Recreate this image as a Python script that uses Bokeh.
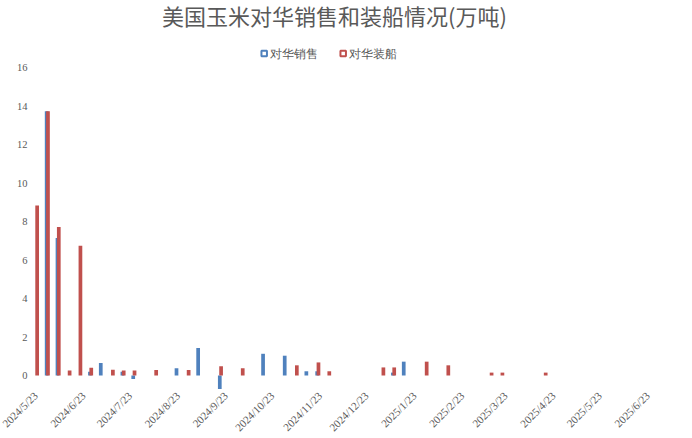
import math
import pandas as pd
from bokeh.plotting import figure
from bokeh.models import ColumnDataSource, Range1d, LabelSet, Label
from bokeh.transform import dodge
from bokeh.embed import file_html
from bokeh.resources import INLINE

# weekly data, week ending Thursday, starting 2024-05-23
weeks = pd.date_range("2024-05-23", periods=57, freq="7D").strftime("%Y-%m-%d").tolist()

sales = [0, 13.75, 7.15, 0, 0, 0.2, 0.65, 0, 0.2, -0.18,
         0, 0, 0, 0.38, 0, 1.43, 0, -0.7, 0, 0,
         0, 1.13, 0, 1.03, 0, 0.22, 0.22, 0, 0, 0,
         0, 0, 0, 0.15, 0.72, 0, 0, 0, 0, 0,
         0, 0, 0, 0, 0, 0, 0, 0, 0, 0,
         0, 0, 0, 0, 0, 0, 0]

shipments = [8.85, 13.75, 7.72, 0.26, 6.75, 0.4, 0, 0.3, 0.26, 0.26,
             0, 0.29, 0, 0, 0.29, 0, 0, 0.48, 0, 0.38,
             0, 0, 0, 0, 0.53, 0, 0.68, 0.22, 0, 0,
             0, 0, 0.42, 0.42, 0, 0, 0.72, 0, 0.53, 0,
             0, 0, 0.15, 0.15, 0, 0, 0, 0.15, 0, 0,
             0, 0, 0, 0, 0, 0, 0]

tick_labels = ["2024/5/23", "2024/6/23", "2024/7/23", "2024/8/23", "2024/9/23",
               "2024/10/23", "2024/11/23", "2024/12/23", "2025/1/23", "2025/2/23",
               "2025/3/23", "2025/4/23", "2025/5/23", "2025/6/23"]
y_ticks = [0, 2, 4, 6, 8, 10, 12, 14, 16]

series_names = ["对华销售", "对华装船"]
title_text = "美国玉米对华销售和装船情况(万吨)"

BLUE = "#4F81BD"
RED = "#C0504D"
GREY = "#595959"
series_colors = [BLUE, RED]

W, H = 692, 438

# pixel layout of the plotting area (used only to set the ranges / text placement)
X0_PX, PX_PER_DAY = 36.0, 10.82 / 7.0      # where day 0 sits, horizontal scale
Y0_PX, PX_PER_UNIT = 375.0, 19.22          # where value 0 sits, vertical scale
LEGEND_KEY_PX = [263.7, 342.7]             # legend key centres (x), row at y = 53
LEGEND_ROW_PX = 53


def xd(px):
    return (px - X0_PX) / PX_PER_DAY


def yd(px):
    return (Y0_PX - px) / PX_PER_UNIT


base = pd.Timestamp(weeks[0])
xdays = [(pd.Timestamp(w) - base).days for w in weeks]
tick_pos = [(pd.to_datetime(t, format="%Y/%m/%d") - base).days for t in tick_labels]

src = ColumnDataSource(dict(x=xdays, sales=sales, ship=shipments))
xtick_src = ColumnDataSource(dict(x=tick_pos, y=[yd(389)] * len(tick_pos), text=tick_labels))
ytick_src = ColumnDataSource(dict(x=[xd(27)] * len(y_ticks), y=y_ticks,
                                  text=[str(v) for v in y_ticks]))

p = figure(width=W, height=H, output_backend="svg", toolbar_location=None, title=None,
           x_range=Range1d(xd(0), xd(W)), y_range=Range1d(yd(H), yd(0)),
           min_border_left=0, min_border_right=0, min_border_top=0, min_border_bottom=0)

p.vbar(x=dodge("x", -0.42, range=p.x_range), top="sales", width=2.4,
       source=src, fill_color=BLUE, line_color=None)
p.vbar(x=dodge("x", 0.42, range=p.x_range), top="ship", width=2.4,
       source=src, fill_color=RED, line_color=None)

# axis tick labels
p.add_layout(LabelSet(x="x", y="y", text="text", source=xtick_src, angle=math.pi / 4,
                      text_align="right", text_baseline="top", x_offset=-5,
                      text_font="Liberation Sans", text_font_size="11px",
                      text_color=GREY))
p.add_layout(LabelSet(x="x", y="y", text="text", source=ytick_src,
                      text_align="right", text_baseline="middle",
                      text_font="Liberation Sans", text_font_size="10.5px",
                      text_color=GREY))

# title
p.add_layout(Label(x=xd(161.5), y=yd(14), text=title_text, text_align="left",
                   text_baseline="middle", text_font="Noto Sans CJK SC",
                   text_font_size="22px", text_color=GREY))

# legend: hollow-centre keys + labels
key_src = ColumnDataSource(dict(x=[xd(k) for k in LEGEND_KEY_PX],
                                y=[yd(LEGEND_ROW_PX)] * 2, color=series_colors))
p.rect(x="x", y="y", width=5.5, height=5.5, width_units="screen", height_units="screen",
       source=key_src, fill_color="white", line_color="color", line_width=2)
leg_src = ColumnDataSource(dict(x=[xd(k + 6) for k in LEGEND_KEY_PX],
                                y=[yd(LEGEND_ROW_PX)] * 2, text=series_names))
p.add_layout(LabelSet(x="x", y="y", text="text", source=leg_src, text_align="left",
                      text_baseline="middle", text_font="Noto Sans CJK SC",
                      text_font_size="12px", text_color=GREY))

p.xaxis.visible = False
p.yaxis.visible = False
p.xgrid.grid_line_color = None
p.ygrid.grid_line_color = None
p.outline_line_color = None

open("out.html", "w").write(file_html(p, INLINE))
